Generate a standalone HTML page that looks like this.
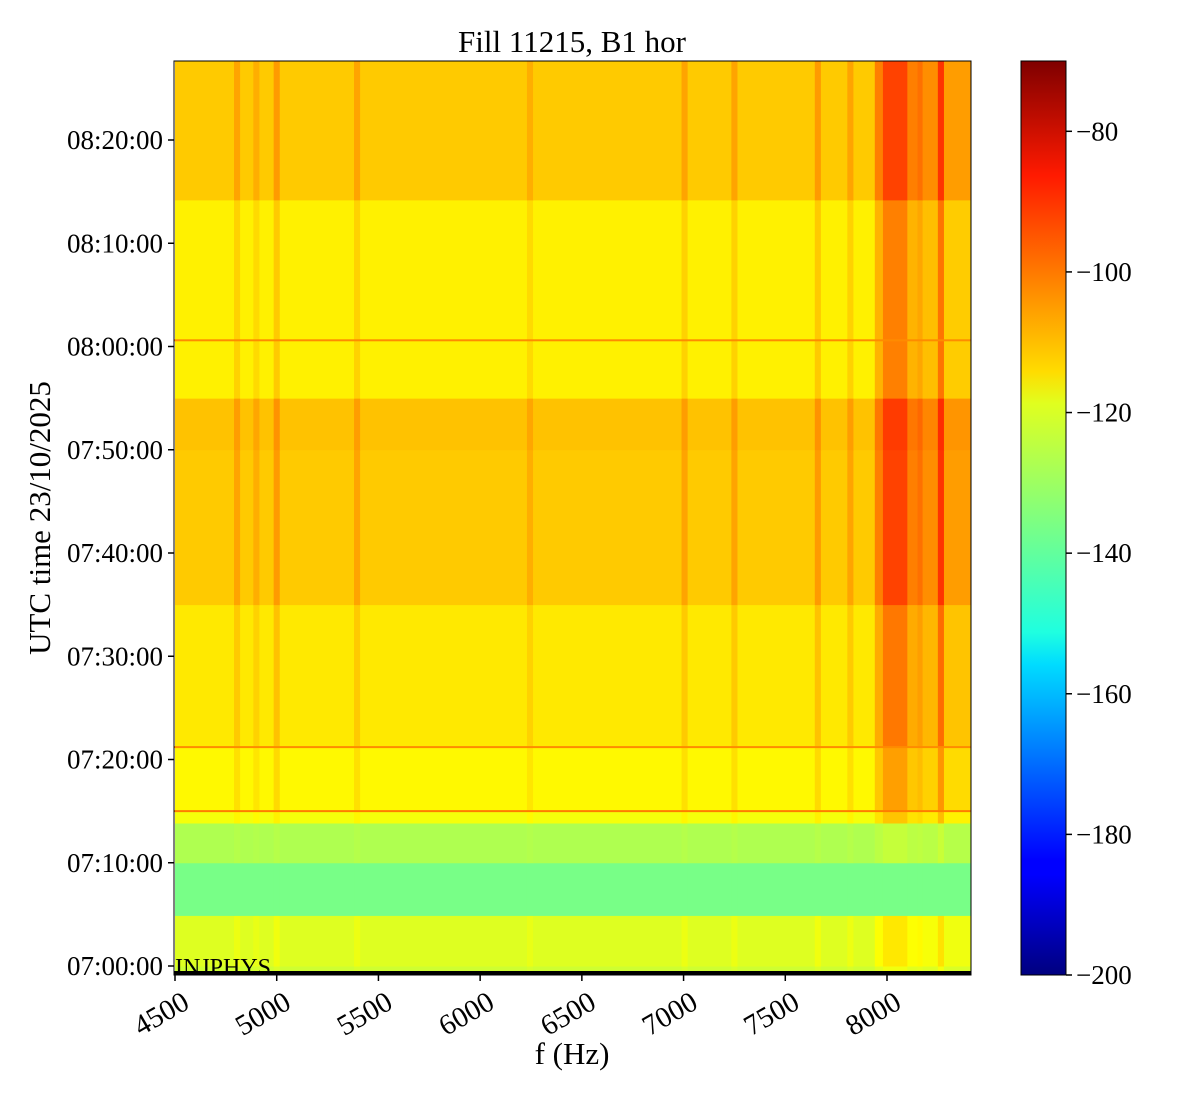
<!DOCTYPE html>
<html><head><meta charset="utf-8"><style>
body{margin:0;background:#fff;}
svg{display:block;font-family:"Liberation Serif",serif;}
</style></head><body>
<svg id="chart" width="1200" height="1100">
<text x="572" y="52" font-size="31" text-anchor="middle">Fill 11215, B1 hor</text>
<g id="cells"></g>
<g id="hlines"></g>
<rect x="174" y="971" width="797" height="4" fill="#000"/>
<text x="175" y="975" font-size="24">INJPHYS</text>
<rect x="174" y="61" width="797" height="914" fill="none" stroke="#000" stroke-width="1"/>
<g id="xaxis"></g>
<g id="yaxis"></g>
<text x="572" y="1064" font-size="31" text-anchor="middle">f (Hz)</text>
<text transform="translate(50,518) rotate(-90)" font-size="31" text-anchor="middle">UTC time 23/10/2025</text>
<defs><linearGradient id="jet" x1="0" y1="1" x2="0" y2="0">
<stop offset="0" stop-color="#00007f"/><stop offset="0.11" stop-color="#0000ff"/><stop offset="0.125" stop-color="#0000ff"/>
<stop offset="0.34" stop-color="#00dcff"/><stop offset="0.375" stop-color="#1fffe0"/><stop offset="0.5" stop-color="#80ff7f"/>
<stop offset="0.625" stop-color="#e0ff1f"/><stop offset="0.66" stop-color="#ffdc00"/><stop offset="0.875" stop-color="#ff1a00"/>
<stop offset="1" stop-color="#7f0000"/></linearGradient></defs>
<rect x="1021" y="61" width="45" height="914" fill="url(#jet)" stroke="#000" stroke-width="1"/>
<g id="cbaxis"></g>
</svg>
<script>
const bandStart=[-0.9,0,4.9,10,13.85,15,21.2,35,50,55,60.6,74.2];
const bandEnd=[0,4.9,10,13.85,15,21.2,35,50,55,60.6,74.2,87.7];
const bandLevel=[-125,-123,-136,-129,-120,-118,-116,-112,-111,-117,-117,-112];
const bandActivity=[0.3,0.5,0,0.2,0.6,0.8,1,1.2,1.2,1,1,1.2];
const freqEdges=[4500,4790,4820,4885,4915,4985,5015,5380,5410,6230,6260,6990,7020,7235,7265,7645,7675,7805,7835,7940,7980,8100,8150,8175,8200,8250,8280,8413];
const freqBoost=[0,4,0,3,0,5,0,4,0,3,0,4,0,4,0,5,0,4,0,5,9,5,6,4,4,10,3];
const hLineTimes=[15,21.2,60.6];
const hLineLevel=[-102,-104,-104];
const xTicks=[4500,5000,5500,6000,6500,7000,7500,8000];
const yTickMinutes=[0,10,20,30,40,50,60,70,80];
const yTickLabels=["07:00:00","07:10:00","07:20:00","07:30:00","07:40:00","07:50:00","08:00:00","08:10:00","08:20:00"];
const cbTicks=[-80,-100,-120,-140,-160,-180,-200];

const NS="http://www.w3.org/2000/svg";
const X=f=>175+(f-4500)*(712/3500);
const Y=t=>966-t*10.325;
const C=v=>975-(v+200)*(914/130);
function jet(v){let x=(v+200)/130;x=Math.max(0,Math.min(1,x));
 const cl=a=>Math.round(255*Math.max(0,Math.min(1,a)));
 return `rgb(${cl(1.5-Math.abs(4*x-3))},${cl(1.5-Math.abs(4*x-2))},${cl(1.5-Math.abs(4*x-1))})`;}
function mk(tag,attrs,parent){const e=document.createElementNS(NS,tag);for(const k in attrs)e.setAttribute(k,attrs[k]);parent.appendChild(e);return e;}
const cells=document.getElementById('cells');
for(let b=0;b<bandStart.length;b++){
 const y1=Math.max(61,Y(bandEnd[b])),y2=Math.min(975,Y(bandStart[b]));
 for(let s=0;s<freqBoost.length;s++){
  const x1=X(freqEdges[s]),x2=Math.min(971,X(freqEdges[s+1]));
  const v=bandLevel[b]+freqBoost[s]*bandActivity[b]*(freqEdges[s]>=7940?1.6:1);
  const r=mk('rect',{x:x1,y:y1,width:x2-x1+0.5,height:y2-y1+0.5,fill:jet(v)},cells);
  
  
 }
}
const hl=document.getElementById('hlines');
hLineTimes.forEach((t,i)=>{const r=mk('rect',{x:174,y:Y(t)-1,width:797,height:2,fill:jet(hLineLevel[i])},hl);
 
 });
const xa=document.getElementById('xaxis');
xTicks.forEach(f=>{const x=X(f);
 const l=mk('line',{x1:x,y1:975,x2:x,y2:981,stroke:'#000','stroke-width':1.5},xa);
 
 
 const t=mk('text',{transform:`translate(${x+6},${990}) rotate(-30)`,'font-size':29,'text-anchor':'end','dominant-baseline':'hanging'},xa);
 
 
 t.textContent=f;});
const ya=document.getElementById('yaxis');
yTickMinutes.forEach((m,i)=>{const y=Y(m);
 const l=mk('line',{x1:168,y1:y,x2:174,y2:y,stroke:'#000','stroke-width':1.5},ya);
 
 
 const t=mk('text',{x:163,y:y+9,'font-size':27,'text-anchor':'end'},ya);
 
 
 t.textContent=yTickLabels[i];});
const ca=document.getElementById('cbaxis');
cbTicks.forEach(v=>{const y=C(v);
 const l=mk('line',{x1:1066,y1:y,x2:1072,y2:y,stroke:'#000','stroke-width':1.5},ca);
 
 
 const t=mk('text',{x:1076,y:y+9,'font-size':27},ca);
 
 
 t.textContent='\u2212'+Math.abs(v);});
</script>
</body></html>
